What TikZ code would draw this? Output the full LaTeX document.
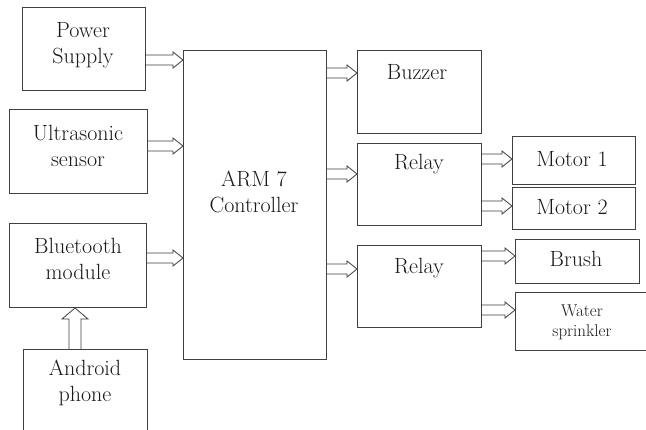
\documentclass[tikz,border=0pt]{standalone}
\usetikzlibrary{calc}
\begin{document}
\begin{tikzpicture}[x=1pt,y=-1pt,
  box/.style={draw=black!75, line width=1pt, anchor=north west, inner sep=0pt},
  txt/.style={text=black!90, font=\fontsize{22}{26}\selectfont, align=center, inner sep=0pt},
  stxt/.style={text=black!90, font=\fontsize{17}{20}\selectfont, align=center, inner sep=0pt},
  harr/.style={draw=black!75, fill=white, line width=0.8pt,
    to path={let \p1=(\tikztostart), \p2=(\tikztotarget) in
      (\x1,\y1+5pt) -- (\x2-10pt,\y1+5pt) -- (\x2-10pt,\y1+8pt) -- (\x2,\y1)
      -- (\x2-10pt,\y1-8pt) -- (\x2-10pt,\y1-5pt) -- (\x1,\y1-5pt)}},
  varr/.style={draw=black!75, fill=white, line width=0.8pt,
    to path={let \p1=(\tikztostart), \p2=(\tikztotarget) in
      (\x1-6pt,\y1) -- (\x1-6pt,\y2-11pt) -- (\x1-13pt,\y2-11pt) -- (\x1,\y2)
      -- (\x1+13pt,\y2-11pt) -- (\x1+6pt,\y2-11pt) -- (\x1+6pt,\y1)}}]
\useasboundingbox (0,0) rectangle (646,430);
\fill[white] (0,0) rectangle (646,430);

% boxes
\node[box, minimum width=123, minimum height=83] (ps)  at (22,7) {};
\node[box, minimum width=138, minimum height=84] (us)  at (9,109) {};
\node[box, minimum width=137, minimum height=84] (bt)  at (9,223) {};
\node[box, minimum width=124, minimum height=90] (an)  at (23,349) {};
\node[box, minimum width=143, minimum height=309] (arm) at (183,50) {};
\node[box, minimum width=124, minimum height=83] (buz) at (357,50) {};
\node[box, minimum width=124, minimum height=82] (r1)  at (357,143) {};
\node[box, minimum width=124, minimum height=82] (r2)  at (357,245) {};
\node[box, minimum width=123, minimum height=48] (m1)  at (512,136) {};
\node[box, minimum width=123, minimum height=42] (m2)  at (512,187) {};
\node[box, minimum width=124, minimum height=44] (br)  at (515,239) {};
\node[box, minimum width=131, minimum height=58] (ws)  at (515,292) {};

% texts
\node[txt] (pst)  at (83,45)   {Power\\Supply};
\node[txt] (ust)  at (78,146)  {Ultrasonic\\sensor};
\node[txt] (btt)  at (78,259)  {Bluetooth\\module};
\node[txt] (ant)  at (85,383)  {Android\\phone};
\node[txt] (armt) at (254,192) {ARM 7\\Controller};
\node[txt] (buzt) at (417,72)  {Buzzer};
\node[txt] (r1t)  at (419,164) {Relay};
\node[txt] (r2t)  at (419,268) {Relay};
\node[txt] (m1t)  at (572,159) {Motor 1};
\node[txt] (m2t)  at (572,207) {Motor 2};
\node[txt] (brt)  at (576,259) {Brush};
\node[stxt] (wst) at (582,322) {Water\\sprinkler};

% arrows
\draw[harr] (ps.east |- 0,60)  to (arm.west |- 0,60);
\draw[harr] (us.east |- 0,146) to (arm.west |- 0,146);
\draw[harr] (bt.east |- 0,258) to (arm.west |- 0,258);
\draw[varr] (an.north -| 75,0) to (bt.south -| 75,0);
\draw[harr] (arm.east |- 0,73)  to (buz.west |- 0,73);
\draw[harr] (arm.east |- 0,174) to (r1.west |- 0,174);
\draw[harr] (arm.east |- 0,269) to (r2.west |- 0,269);
\draw[harr] (r1.east |- 0,159) to (m1.west |- 0,159);
\draw[harr] (r1.east |- 0,206) to (m2.west |- 0,206);
\draw[harr] (r2.east |- 0,256) to (br.west |- 0,256);
\draw[harr] (r2.east |- 0,310) to (ws.west |- 0,310);
\end{tikzpicture}
\end{document}
